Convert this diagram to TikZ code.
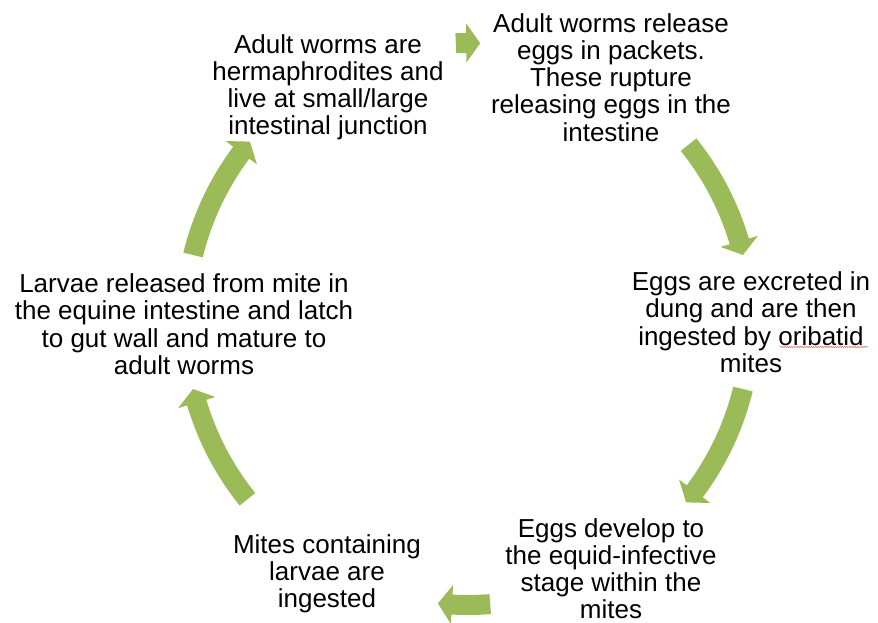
\documentclass[tikz,border=0pt]{standalone}
\usepackage{fontspec}
\setmainfont{Liberation Sans}
\usetikzlibrary{decorations.pathmorphing}
\definecolor{leaf}{HTML}{9BBB59}
\definecolor{spell}{RGB}{235,90,90}
\tikzset{
  txt/.style={align=center, inner sep=0pt, anchor=north, text=black,
              font=\fontsize{26}{27.3}\selectfont},
}
\newcommand\cyclearrow[2]{%
  \pgfmathsetmacro\hb{#2+2.85}%
  \fill[leaf] ([shift={({#1}:{\R+10})}]c)
      arc[start angle=#1, end angle=\hb, radius=\R+10]
      -- ([shift={({\hb}:{\R+19.5})}]c)
      -- ([shift={({#2}:{\R})}]c)
      -- ([shift={({\hb}:{\R-19.5})}]c)
      -- ([shift={({\hb}:{\R-10})}]c)
      arc[start angle=\hb, end angle=#1, radius=\R-10]
      -- cycle;}
\begin{document}
\begin{tikzpicture}[x=1pt,y=1pt]
\useasboundingbox (0,0) rectangle (878,623);
\coordinate (c) at (468,301);
% text blocks
\node[txt] (n1) at (611,610) {Adult worms release\\eggs in packets.\\These rupture\\releasing eggs in the\\intestine};
\node[txt] (n2) at (751,351.5) {Eggs are excreted in\\dung and are then\\ingested by oribatid\\mites};
\node[txt] (n3) at (611,105) {Eggs develop to\\the equid-infective\\stage within the\\mites};
\node[txt] (n4) at (327,89) {Mites containing\\larvae are\\ingested};
\node[txt] (n5) at (184,349.5) {Larvae released from mite in\\the equine intestine and latch\\to gut wall and mature to\\adult worms};
\node[txt] (n6) at (328,589) {Adult worms are\\hermaphrodites and\\live at small/large\\intestinal junction};
% spell-check squiggle
\coordinate (sq1) at (780,276);
\coordinate (sq2) at (868,276);
\draw[spell, line width=0.5pt, decorate,
      decoration={snake, amplitude=0.5pt, segment length=2.2pt}] (sq1) -- (sq2);
% cycle arrows (clockwise)
\def\R{279}
\cyclearrow{92.5}{87.5}
\def\R{283}
\cyclearrow{38.8}{13.7}
\cyclearrow{-13.7}{-39.6}
\cyclearrow{274.5}{263.9}
\cyclearrow{218.8}{193.7}
\cyclearrow{166.3}{140.4}
\end{tikzpicture}
\end{document}
